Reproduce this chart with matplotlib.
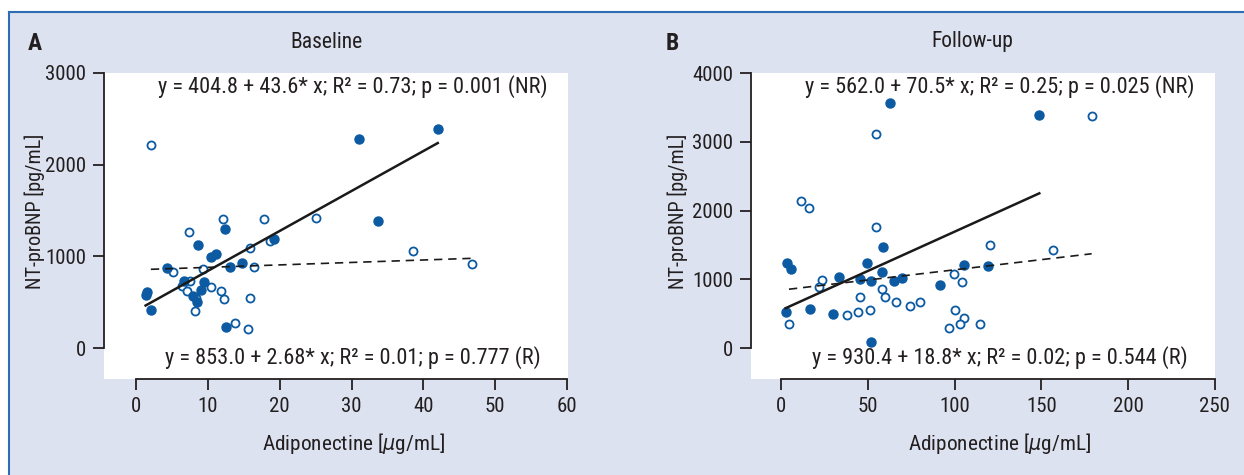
import matplotlib.pyplot as plt
from matplotlib import font_manager
from matplotlib.patches import Rectangle
from matplotlib.lines import Line2D

# narrow sans, as in the reference
names = {(f.name, f.stretch) for f in font_manager.fontManager.ttflist}
for fam, st in [('Roboto Condensed', 'condensed'), ('Roboto Condensed', 'normal'),
                ('Liberation Sans Narrow', 'condensed'), ('DejaVu Sans', 'condensed')]:
    if (fam, st) in names:
        plt.rcParams['font.family'] = [fam, 'DejaVu Sans']
        plt.rcParams['font.stretch'] = st
        break

# Baseline (panel A): NR = filled, R = open
a_nr_x = [42.0, 31.1, 33.75, 12.36, 19.2, 8.6, 10.4, 11.15, 4.35, 13.05, 14.7,
          9.5, 6.76, 9.03, 7.96, 8.56, 1.57, 1.35, 2.08, 12.5]
a_nr_y = [2392, 2280, 1389, 1298, 1189, 1124, 996, 1025, 869, 887, 924,
          724, 735, 633, 571, 505, 611, 582, 415, 233]
a_r_x = [2.08, 12.13, 17.8, 25.05, 7.4, 18.65, 15.9, 38.6, 46.8, 5.23, 9.35,
         16.4, 7.5, 6.48, 7.13, 10.5, 11.8, 12.3, 15.9, 8.3, 8.2, 13.75, 15.6]
a_r_y = [2214, 1404, 1404, 1418, 1262, 1167, 1087, 1058, 920, 833, 865,
         880, 735, 676, 625, 665, 622, 531, 549, 542, 407, 276, 211]

# Follow-up (panel B)
b_nr_x = [62.9, 148.8, 58.7, 3.0, 5.5, 49.5, 105.4, 119.0, 58.1, 33.3, 45.4,
          69.5, 64.8, 51.8, 91.5, 2.4, 16.3, 29.5, 51.6]
b_nr_y = [3564, 3383, 1469, 1245, 1158, 1236, 1216, 1193, 1110, 1032, 1008,
          1022, 984, 974, 920, 528, 576, 499, 97]
b_r_x = [179.0, 54.5, 11.2, 16.0, 54.3, 120.6, 156.7, 99.8, 103.9, 23.2, 21.4,
         57.8, 45.4, 59.5, 65.8, 80.2, 73.9, 37.6, 44.3, 51.0, 100.0, 105.6,
         102.9, 96.4, 114.6, 4.3]
b_r_y = [3379, 3107, 2143, 2041, 1760, 1498, 1425, 1085, 969, 993, 892,
         867, 741, 751, 669, 669, 620, 484, 528, 553, 557, 436,
         358, 300, 349, 353]

# regression lines as drawn (intercept, slope)
a_fit_nr = (404.8, 43.6)
a_fit_r = (853.0, 2.68)
b_fit_nr = (555.0, 11.4)
b_fit_r = (845.0, 2.95)

a_txt_nr = 'y = 404.8 + 43.6* x; R² = 0.73; p = 0.001 (NR)'
a_txt_r = 'y = 853.0 + 2.68* x; R² = 0.01; p = 0.777 (R)'
b_txt_nr = 'y = 562.0 + 70.5* x; R² = 0.25; p = 0.025 (NR)'
b_txt_r = 'y = 930.4 + 18.8* x; R² = 0.02; p = 0.544 (R)'

a_xticks = [0, 10, 20, 30, 40, 50, 60]
a_yticks = [0, 1000, 2000, 3000]
b_xticks = [0, 50, 100, 150, 200, 250]
b_yticks = [0, 1000, 2000, 3000, 4000]

blue = '#0b5aa2'
bg = '#dce2ef'
frame = '#2e6db4'
ink = '#231f20'

fig = plt.figure(figsize=(12.44, 4.75), dpi=100)
fig.patch.set_facecolor('white')
fig.patches.append(Rectangle((9/1244, 0), 1, 1 - 12/475, transform=fig.transFigure,
                             facecolor=bg, edgecolor='none', zorder=-10))
fig.lines.append(Line2D([9/1244, 9/1244], [0, 1 - 12/475], transform=fig.transFigure,
                        color=frame, lw=1.5))
fig.lines.append(Line2D([9/1244, 1], [1 - 12/475, 1 - 12/475], transform=fig.transFigure,
                        color=frame, lw=1.5))


def panel(ax, nrx, nry, rx, ry, fit_nr, fit_r, t_nr, t_r, xticks, yticks, xlim, ylim):
    ax.set_facecolor('white')
    ax.plot(rx, ry, 'o', ms=5.8, mfc='white', mec=blue, mew=1.3, zorder=3)
    ax.plot(nrx, nry, 'o', ms=6.5, color=blue, zorder=4)
    x0, x1 = min(nrx), max(nrx)
    ax.plot([x0, x1], [fit_nr[0] + fit_nr[1]*x0, fit_nr[0] + fit_nr[1]*x1],
            color='#1a1a1a', lw=1.8, zorder=5)
    x0, x1 = min(rx), max(rx)
    ax.plot([x0, x1], [fit_r[0] + fit_r[1]*x0, fit_r[0] + fit_r[1]*x1],
            color='#1a1a1a', lw=1.2, ls=(0, (5, 3.5)), zorder=5)
    ax.set_xlim(*xlim)
    ax.set_ylim(*ylim)
    ax.set_xticks(xticks)
    ax.set_yticks(yticks)
    for s in ['top', 'right']:
        ax.spines[s].set_visible(False)
    ax.spines['left'].set_bounds(yticks[0], yticks[-1])
    ax.spines['bottom'].set_bounds(xticks[0], xticks[-1])
    for s in ['left', 'bottom']:
        ax.spines[s].set_color(ink)
        ax.spines[s].set_linewidth(1.3)
    ax.tick_params(direction='out', length=8, width=1.3, color=ink,
                   labelsize=15, labelcolor=ink, pad=5)
    ax.text(0.536, 0.955, t_nr, transform=ax.transAxes, ha='center', va='center',
            fontsize=16, color=ink)
    ax.text(0.536, 0.07, t_r, transform=ax.transAxes, ha='center', va='center',
            fontsize=16, color=ink)


ax1 = fig.add_axes([104/1244, 96/475, 463.5/1244, 306/475])
panel(ax1, a_nr_x, a_nr_y, a_r_x, a_r_y, a_fit_nr, a_fit_r, a_txt_nr, a_txt_r,
      a_xticks, a_yticks, (-4.44, 60.05), (-338, 3000))

ax2 = fig.add_axes([751/1244, 96/475, 464/1244, 306/475])
panel(ax2, b_nr_x, b_nr_y, b_r_x, b_r_y, b_fit_nr, b_fit_r, b_txt_nr, b_txt_r,
      b_xticks, b_yticks, (-17.6, 250.2), (-447, 4000))

# panel letters, titles, axis labels
fig.text(35/1244, 1 - 44/475, 'A', fontsize=17, fontweight='bold', ha='center', va='center', color=ink)
fig.text(672/1244, 1 - 44/475, 'B', fontsize=17, fontweight='bold', ha='center', va='center', color=ink)
fig.text(326/1244, 1 - 42/475, 'Baseline', fontsize=15.5, ha='center', va='center', color=ink)
fig.text(972/1244, 1 - 42/475, 'Follow-up', fontsize=15.5, ha='center', va='center', color=ink)
for xc in [353, 999]:
    fig.text(xc/1244, 1 - 443/475, 'Adiponectine [$\\mu$g/mL]', fontsize=15.3,
             ha='center', va='center', color=ink)
for xc in [35, 678]:
    fig.text(xc/1244, 1 - 211/475, 'NT-proBNP [pg/mL]', fontsize=14.5, rotation=90,
             ha='center', va='center', color=ink)

fig.savefig('out.png', dpi=100)
